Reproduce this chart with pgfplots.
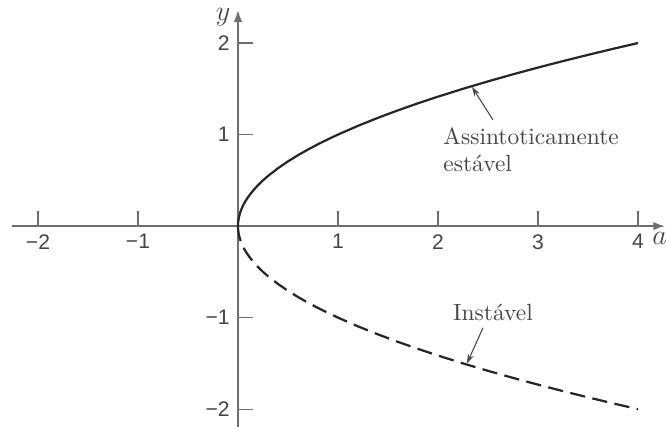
\documentclass[border=0pt]{standalone}
\usepackage{pgfplots}
\pgfplotsset{compat=1.18}
\usepackage{pgfplotstable}
\usepackage{fontspec}
\newfontfamily\tickfont{Liberation Sans}
\usetikzlibrary{arrows.meta}

\definecolor{ink}{HTML}{262626}
\definecolor{axisgray}{HTML}{6E6E6E}
\definecolor{textgray}{HTML}{454545}

% equilibrium branches y = +sqrt(a) (stable) and y = -sqrt(a) (unstable)
\pgfplotstableread{
a     up      down
0     0       0
0.001 0.0316  -0.0316
0.005 0.0707  -0.0707
0.01  0.1000  -0.1000
0.02  0.1414  -0.1414
0.03  0.1732  -0.1732
0.05  0.2236  -0.2236
0.07  0.2646  -0.2646
0.10  0.3162  -0.3162
0.15  0.3873  -0.3873
0.20  0.4472  -0.4472
0.25  0.5000  -0.5000
0.30  0.5477  -0.5477
0.40  0.6325  -0.6325
0.50  0.7071  -0.7071
0.60  0.7746  -0.7746
0.70  0.8367  -0.8367
0.80  0.8944  -0.8944
0.90  0.9487  -0.9487
1.00  1.0000  -1.0000
1.20  1.0954  -1.0954
1.40  1.1832  -1.1832
1.60  1.2649  -1.2649
1.80  1.3416  -1.3416
2.00  1.4142  -1.4142
2.25  1.5000  -1.5000
2.50  1.5811  -1.5811
2.75  1.6583  -1.6583
3.00  1.7321  -1.7321
3.25  1.8028  -1.8028
3.50  1.8708  -1.8708
3.75  1.9365  -1.9365
4.00  2.0000  -2.0000
}\branches

\begin{document}
\begin{tikzpicture}
\begin{axis}[
  x=1.5cm, y=1.373cm,
  axis lines=middle,
  xmin=-2.26, xmax=4.27, ymin=-2.19, ymax=2.36,
  axis line style={axisgray, line width=0.6pt},
  every inner x axis line/.append style={-{Latex[length=5pt,width=3.5pt]}},
  every inner y axis line/.append style={-{Latex[length=5pt,width=3.5pt]}},
  xtick={-2,-1,1,2,3,4}, xticklabels={−2,−1,1,2,3,4},
  ytick={-2,-1,1,2}, yticklabels={−2,−1,1,2},
  tick align=inside,
  major tick length=0.22cm,
  tick style={axisgray, line width=0.5pt},
  ticklabel style={font=\tickfont\fontsize{9}{10}\selectfont, text=textgray},
  xlabel={$a$}, ylabel={$y$},
  every axis x label/.style={at={(axis cs:4.215,-0.14)}, anchor=center, text=textgray, font=\large},
  every axis y label/.style={at={(axis cs:-0.15,2.28)}, anchor=center, text=textgray, font=\large},
  clip=false,
]
\addplot[ink, line width=0.95pt] table[x=a, y=up] {\branches};
\addplot[ink, line width=0.95pt, dash pattern=on 6.5pt off 3.2pt] table[x=a, y=down] {\branches};

\draw[textgray, line width=0.45pt, -{Stealth[length=4pt,width=2.6pt]}]
  (axis cs:2.55,1.16) -- (axis cs:2.34,1.52);
\node[anchor=north west, align=left, inner sep=0pt, text=textgray,
      font=\fontsize{10}{11.5}\selectfont] at (axis cs:2.05,1.08)
  {Assintoticamente\\estável};

\draw[textgray, line width=0.45pt, -{Stealth[length=4pt,width=2.6pt]}]
  (axis cs:2.45,-1.11) -- (axis cs:2.29,-1.50);
\node[anchor=base, inner sep=0pt, text=textgray, font=\fontsize{10}{12}\selectfont]
  at (axis cs:2.55,-1.03) {Instável};

\coordinate (bbl) at (axis cs:-2.38,-2.19);
\coordinate (btr) at (axis cs:4.29,2.47);
\end{axis}
\pgfresetboundingbox
\path[use as bounding box] (bbl) rectangle (btr);
\end{tikzpicture}
\end{document}
